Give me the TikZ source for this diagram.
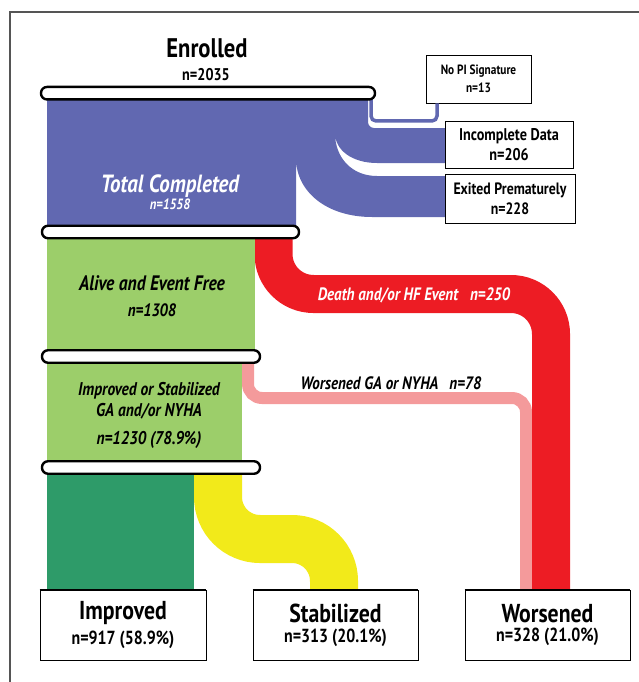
\documentclass[tikz,border=0pt]{standalone}
\usepackage{fontspec}
\setmainfont{PT Sans}[FakeStretch=0.84]
\definecolor{flowblue}{HTML}{6168B1}
\definecolor{flowgreen}{HTML}{9CCE6A}
\definecolor{flowdark}{HTML}{2E9B69}
\definecolor{flowred}{HTML}{ED1C24}
\definecolor{flowpink}{HTML}{F49A9B}
\definecolor{flowyellow}{HTML}{F2EA1A}
\definecolor{framegray}{HTML}{555555}
\newcommand{\fs}[1]{\fontsize{#1}{#1}\selectfont}
\begin{document}
\begin{tikzpicture}[x=1bp,y=-1bp,
  capsule/.style={draw,line width=2.4bp,fill=white,rounded corners=6bp,inner sep=0pt,minimum height=12.5bp},
  outbox/.style={draw,line width=0.9bp,fill=white,inner sep=0pt,align=center,font=\bfseries},
  flowtext/.style={font=\bfseries\itshape,inner sep=0pt,align=center}]
 \useasboundingbox (0,0) rectangle (639,682);
 % frame
 \draw [framegray,line width=2bp] (10,682) -- (10,12) -- (639,12);
 % enrolled block and its exits
 \fill [flowblue] (47,99) -- (368,99) -- (368,122) to[out=-90,in=180] (374,128) -- (446,128)
   -- (446,163) -- (377,163) .. controls (352,163) and (335,150) .. (335,133)
   .. controls (335,158) and (352,176) .. (377,176) -- (446,176) -- (446,217) -- (372,217)
   .. controls (327,217) and (296,192) .. (296,158) -- (296,226) -- (47,226) -- cycle;
 % boxes
 \node [outbox,minimum width=105bp,minimum height=48bp] (nopi) at (478.5,79)
   {\fs{13.5}No PI Signature\\[5bp]\fs{13.5}n=13};
 \node [outbox,minimum width=128bp,minimum height=47bp] (incomplete) at (509,144.5)
   {\fs{17}Incomplete Data\\[4bp]\fs{17}n=206};
 \node [outbox,minimum width=130bp,minimum height=49bp] (exited) at (510,198.5)
   {\fs{16.5}Exited Prematurely\\[4bp]\fs{16.5}n=228};
 \node [outbox,minimum width=166bp,minimum height=70bp] (improved) at (123,625)
   {\fs{26}Improved\\[5bp]\fs{19}n=917 (58.9\%)};
 \node [outbox,minimum width=165bp,minimum height=70bp] (stabilized) at (335.5,625)
   {\fs{26}Stabilized\\[5bp]\fs{19}n=313 (20.1\%)};
 \node [outbox,minimum width=165bp,minimum height=70bp] (worsened) at (547.5,625)
   {\fs{26}Worsened\\[5bp]\fs{19}n=328 (21.0\%)};
 % flows
 \draw [flowblue,line width=3.5bp,rounded corners=5bp] (371,99) -- (371,121) -- (437,121) -- (437,0 |- nopi.south);
 \draw [flowpink,line width=12bp,rounded corners=14bp] (248,356) -- (248,398) -- (526,398) -- (526,0 |- worsened.north);
 \draw [flowred,line width=38bp,rounded corners=40bp] (273.5,232) -- (273.5,294) -- (551,294) -- (551,0 |- worsened.north);
 \draw [flowyellow,line width=48bp] (218,467) -- (218,497) .. controls (218,520.2) and (236.8,539) .. (260,539)
   -- (292,539) .. controls (315.2,539) and (334,557.8) .. (334,581) -- (334,0 |- stabilized.north);
 \fill [flowgreen] (47,232) rectangle (254.5,356);
 \fill [flowgreen] (47,356) rectangle (242,467);
 \fill [flowdark] (47,467) rectangle (194,0 |- improved.north);
 \draw [line width=0.9bp] (improved.north west) -- (improved.north east);
 \draw [line width=0.9bp] (stabilized.north west) -- (stabilized.north east);
 \draw [line width=0.9bp] (worsened.north west) -- (worsened.north east);
 % separators
 \node [capsule,minimum width=334bp] (cap1) at (208,93.2) {};
 \node [capsule,minimum width=257bp] (cap2) at (170.5,232) {};
 \node [capsule,minimum width=218bp] (cap3) at (151,356.5) {};
 \node [capsule,minimum width=218bp] (cap4) at (151,467.5) {};
 % labels
 \node [font=\bfseries,inner sep=0pt] (enrolled) at (207,48) {\fs{27}Enrolled};
 \node [font=\bfseries,inner sep=0pt] (enrolledn) at (206,75) {\fs{17}n=2035};
 \node [flowtext,white] (completed) at (170,186) {\fs{25}Total Completed};
 \node [flowtext,white] (completedn) at (170,204) {\fs{15}n=1558};
 \node [flowtext] (alive) at (152,283) {\fs{21}Alive and Event Free};
 \node [flowtext] (aliven) at (152,310) {\fs{18}n=1308};
 \node [flowtext] (stable) at (149,401) {\fs{18.5}Improved or Stabilized\\[3bp]\fs{18.5}GA and/or NYHA};
 \node [flowtext] (stablen) at (149,440) {\fs{18.5}n=1230 (78.9\%)};
 \node [flowtext,white] (death) at (414,295) {\fs{18}Death and/or HF Event\hspace{12bp}n=250};
 \node [flowtext] (worse) at (391,383) {\fs{18}Worsened GA or NYHA\hspace{11bp}n=78};
\end{tikzpicture}
\end{document}
